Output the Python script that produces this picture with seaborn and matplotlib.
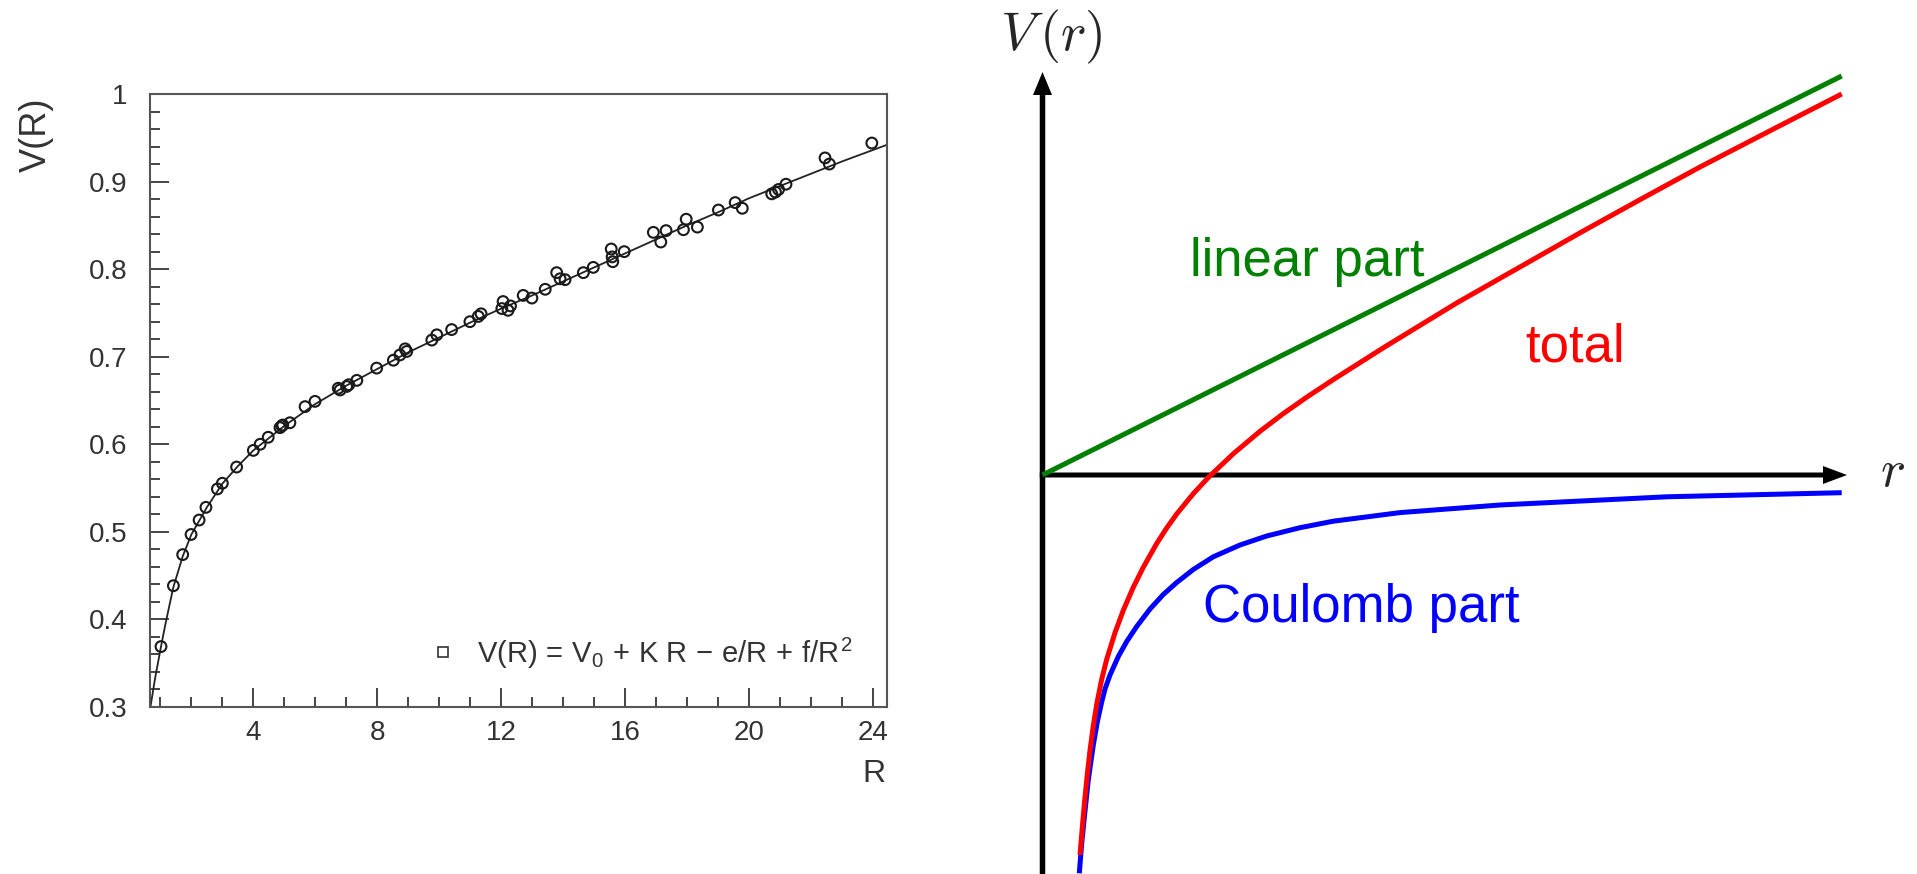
import matplotlib
matplotlib.use('Agg')
import matplotlib.pyplot as plt
from matplotlib.ticker import MultipleLocator, FixedLocator
from matplotlib.lines import Line2D
import seaborn as sns

# 左图: 格点测量数据 (R, V)
R_pts = [1.02, 1.42, 1.72, 1.99, 2.25, 2.47, 2.84, 3.00, 3.46, 4.00, 4.22, 4.48,
         4.86, 4.92, 4.95, 5.18, 5.67, 5.99, 6.74, 6.80, 7.01, 7.08, 7.34, 7.98,
         8.52, 8.73, 8.90, 8.95, 9.76, 9.92, 10.40, 10.99, 11.26, 11.35, 12.02,
         12.06, 12.22, 12.30, 12.71, 12.99, 13.42, 13.79, 13.90, 14.06, 14.65,
         14.97, 15.55, 15.58, 15.60, 15.97, 16.91, 17.15, 17.32, 17.88, 17.97,
         18.33, 19.01, 19.55, 19.78, 20.73, 20.85, 20.95, 21.19, 22.45, 22.59, 23.96]
V_pts = [0.369, 0.4385, 0.474, 0.497, 0.5135, 0.528, 0.549, 0.5555, 0.574, 0.593, 0.600, 0.608,
         0.619, 0.621, 0.622, 0.6246, 0.643, 0.649, 0.664, 0.662, 0.666, 0.668, 0.673, 0.687,
         0.696, 0.702, 0.709, 0.706, 0.719, 0.725, 0.731, 0.740, 0.746, 0.749, 0.755,
         0.763, 0.753, 0.758, 0.770, 0.767, 0.777, 0.796, 0.789, 0.788, 0.796,
         0.802, 0.823, 0.814, 0.8085, 0.820, 0.842, 0.831, 0.844, 0.845, 0.857,
         0.848, 0.8675, 0.876, 0.8695, 0.886, 0.888, 0.891, 0.897, 0.927, 0.920, 0.944]

# 拟合曲线
R_fit = [0.68, 0.83, 1.02, 1.17, 1.42, 1.72, 2.0, 2.5, 3.0, 3.5, 4.0, 5.0, 6.0, 7.0, 8.0,
         9.0, 10.0, 11.0, 12.0, 13.0, 14.0, 15.0, 16.0, 17.0, 18.0, 19.0, 20.0, 21.0,
         22.0, 23.0, 24.45]
V_fit = [0.300, 0.333, 0.369, 0.396, 0.437, 0.472, 0.497, 0.528, 0.555, 0.575, 0.593, 0.621,
         0.646, 0.667, 0.686, 0.705, 0.722, 0.739, 0.755, 0.770, 0.786, 0.802, 0.818, 0.834,
         0.850, 0.865, 0.881, 0.895, 0.909, 0.923, 0.942]

x_ticks = [4, 8, 12, 16, 20, 24]
y_ticks = [0.3, 0.4, 0.5, 0.6, 0.7, 0.8, 0.9, 1.0]
y_tick_labels = ['0.3', '0.4', '0.5', '0.6', '0.7', '0.8', '0.9', '1']
legend_label = r'$V(R)\,=\,V_0\,+\,K\ R\,-\,e/R\,+\,f/R^2$'

# 右图: 示意曲线
r_lin = [0.0, 7.992]
v_lin = [0.0, 3.99]

r_tot = [0.375, 0.402, 0.425, 0.448, 0.475, 0.508, 0.542, 0.592, 0.642, 0.725, 0.808,
         0.908, 1.008, 1.142, 1.242, 1.342, 1.508, 1.658, 1.908, 2.175, 2.408, 2.642,
         2.908, 3.405, 4.15, 5.408, 6.005, 6.575, 7.3, 7.992]
v_tot = [-3.80, -3.476, -3.223, -2.993, -2.755, -2.507, -2.293, -2.043, -1.843, -1.577, -1.353,
         -1.123, -0.923, -0.685, -0.53, -0.39, -0.187, -0.025, 0.2125, 0.437, 0.614, 0.778,
         0.954, 1.27, 1.725, 2.44, 2.77, 3.08, 3.455, 3.81]

r_coul = [0.368, 0.392, 0.425, 0.458, 0.508, 0.548, 0.592, 0.625, 0.675, 0.758, 0.842,
          0.942, 1.075, 1.208, 1.342, 1.508, 1.708, 1.975, 2.242, 2.575, 2.908, 3.575,
          4.575, 6.242, 7.992]
v_coul = [-3.983, -3.683, -3.36, -3.05, -2.70, -2.47, -2.27, -2.14, -2.0, -1.815, -1.665,
          -1.515, -1.34, -1.195, -1.075, -0.945, -0.818, -0.70, -0.61, -0.527, -0.462, -0.376,
          -0.30, -0.218, -0.177]

r_axis_end = 8.045
v_axis_end = 4.03

sns.set_theme(style='white')
plt.rcParams['font.family'] = ['Liberation Sans', 'DejaVu Sans']
plt.rcParams['mathtext.fontset'] = 'custom'
plt.rcParams['mathtext.rm'] = 'Liberation Sans'
plt.rcParams['mathtext.it'] = 'Liberation Sans'
plt.rcParams['mathtext.bf'] = 'Liberation Sans:bold'

W, H = 1917, 874
fig = plt.figure(figsize=(W / 100, H / 100), dpi=100)
fig.patch.set_facecolor('white')

# ---- 左图 ----
ax1 = fig.add_axes([150 / W, 1 - 707 / H, 737 / W, 613 / H])
ink = '#333333'
sns.lineplot(x=R_fit, y=V_fit, ax=ax1, color='#222222', lw=1.3, sort=False, estimator=None, zorder=2)
sns.scatterplot(x=R_pts, y=V_pts, ax=ax1, marker='o', s=60, facecolor='none',
                edgecolor='#1a1a1a', linewidth=1.5, zorder=3)

ax1.set_xlim(0.665, 24.45)
ax1.set_ylim(0.3, 1.0)
ax1.xaxis.set_major_locator(FixedLocator(x_ticks))
ax1.xaxis.set_minor_locator(MultipleLocator(1))
ax1.set_yticks(y_ticks, labels=y_tick_labels)
ax1.yaxis.set_minor_locator(MultipleLocator(0.02))
ax1.tick_params(which='both', direction='in', color='#444444', width=1.4,
                labelsize=20, labelcolor=ink, bottom=True, left=True, top=False, right=False)
ax1.tick_params(which='major', length=13.5)
ax1.tick_params(which='minor', length=7)
ax1.tick_params(axis='y', which='major', pad=16.5)
ax1.tick_params(axis='x', which='major', pad=9)
for sp in ax1.spines.values():
    sp.set_color('#555555')
    sp.set_linewidth(1.5)

ax1.set_xlabel('R', fontsize=23, color=ink, ha='right', va='baseline')
ax1.xaxis.set_label_coords(1.0 - 2 / 737, (707 - 781.7) / 613)
ax1.set_ylabel('V(R)', fontsize=26, color=ink, ha='right', va='center')
ax1.yaxis.set_label_coords((36.7 - 150) / 737, (707 - 98) / 613)

handle = Line2D([], [], marker='s', ls='none', mfc='none', mec=ink, mew=1.2, ms=7)
ax1.legend([handle], [legend_label], loc='center left', frameon=False, fontsize=21,
           labelcolor=ink, bbox_to_anchor=((434.7 - 150) / 737, (707 - 653) / 613),
           borderpad=0, borderaxespad=0, handlelength=0.6, handletextpad=0.85)

# ---- 右图 ----
ax2 = fig.add_axes([1000 / W, 0, 917 / W, 1])
ax2.axis('off')

ax2.arrow(0, -4.3, 0, v_axis_end + 4.3, width=0.055, head_width=0.19, head_length=0.23,
          length_includes_head=True, color='black', lw=0, zorder=1)
ax2.arrow(-0.0275, 0, r_axis_end + 0.0275, 0, width=0.05, head_width=0.18, head_length=0.24,
          length_includes_head=True, color='black', lw=0, zorder=1)

line_kw = dict(sort=False, estimator=None, lw=3.6, solid_capstyle='butt')
sns.lineplot(x=r_coul, y=v_coul, ax=ax2, color='#0000ff', zorder=2, **line_kw)
sns.lineplot(x=r_tot, y=v_tot, ax=ax2, color='#ff0000', zorder=3, **line_kw)
sns.lineplot(x=r_lin, y=v_lin, ax=ax2, color='#008000', zorder=4, **line_kw)
ax2.set_xlim(-0.425, 8.745)
ax2.set_ylim(-3.99, 4.75)

ax2.text(1.475, 1.99, 'linear part', color='#008000', fontsize=38, ha='left', va='baseline')
ax2.text(4.825, 1.14, 'total', color='#ff0000', fontsize=38, ha='left', va='baseline')
ax2.text(1.605, -1.467, 'Coulomb part', color='#0000ff', fontsize=38, ha='left', va='baseline')
ax2.text(0.085, 4.245, r'$V\,(r)$', fontsize=39, ha='center', va='baseline', math_fontfamily='cm')
ax2.text(8.495, -0.11, r'$r$', fontsize=38, ha='center', va='baseline', math_fontfamily='cm')

fig.savefig('out.png', dpi=100)
